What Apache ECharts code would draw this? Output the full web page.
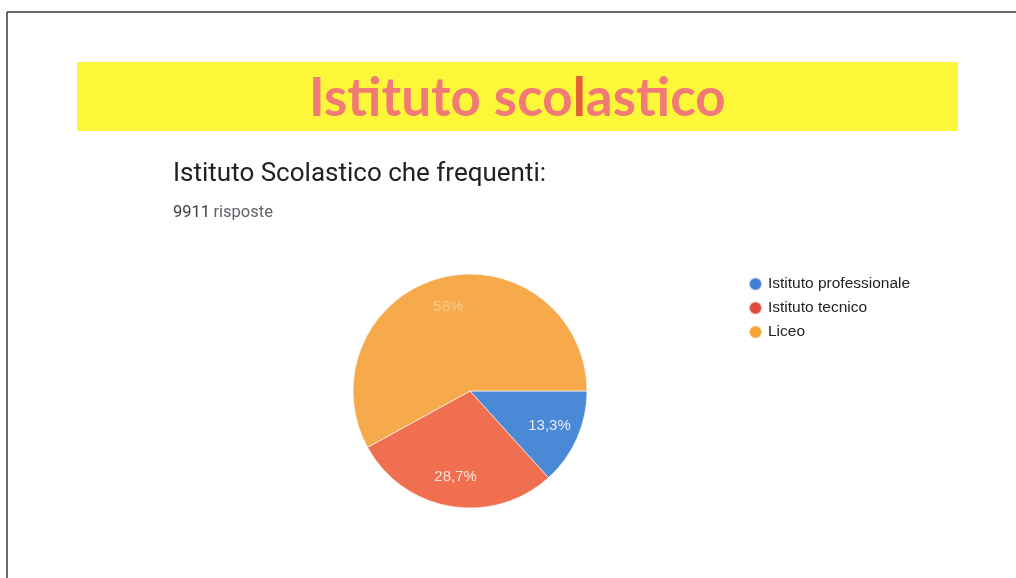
<!DOCTYPE html>
<html>
<head>
<meta charset="utf-8">
<script src="https://cdn.jsdelivr.net/npm/echarts@6/dist/echarts.min.js"></script>
<style>
html,body{margin:0;padding:0;background:#fff;}
#chart{width:1016px;height:578px;}
</style>
</head>
<body>
<div id="chart"></div>
<script>
// ---- data ----
var categories = ['Istituto professionale', 'Istituto tecnico', 'Liceo'];
var percentages = [13.3, 28.7, 58.0];
var sliceColors = ['#4a89d6', '#ef6f50', '#f7aa4c'];
var legendColors = ['#3f7ed0', '#de4a3c', '#f5a233'];
var labelColors = ['rgba(255,255,255,0.85)', 'rgba(255,255,255,0.8)', 'rgba(255,255,255,0.35)'];
var bannerTitle = ['Istituto sco', 'l', 'astico'];
var questionTitle = 'Istituto Scolastico che frequenti:';
var responsesCount = '9911';
var responsesWord = 'risposte';

function fmt(v) {
  var s = v.toFixed(1);
  if (s.slice(-2) === '.0') s = s.slice(0, -2);
  return s.replace('.', ',') + '%';
}

var pieData = categories.map(function (c, i) {
  return { name: c, value: percentages[i], itemStyle: { color: sliceColors[i] } };
});
var labelData = categories.map(function (c, i) {
  return { name: c, value: percentages[i], label: { color: labelColors[i] } };
});

var chart = echarts.init(document.getElementById('chart'), null, { renderer: 'canvas' });
chart.setOption({
  backgroundColor: '#ffffff',
  animation: false,
  legend: {
    orient: 'vertical',
    left: 748,
    top: 276,
    padding: 0,
    icon: 'circle',
    itemWidth: 13,
    itemHeight: 13,
    itemGap: 8,
    selectedMode: false,
    textStyle: { fontFamily: 'Liberation Sans, Arial, sans-serif', fontSize: 15.5, color: '#222222', padding: [0, 0, 0, 1] },
    data: categories.map(function (c, i) { return { name: c, itemStyle: { color: legendColors[i] } }; })
  },
  graphic: [
    { type: 'line', shape: { x1: 7, y1: 12, x2: 1016, y2: 12 }, style: { stroke: '#3a3a3a', lineWidth: 1.5 } },
    { type: 'line', shape: { x1: 7, y1: 12, x2: 7, y2: 578 }, style: { stroke: '#3a3a3a', lineWidth: 1.5 } },
    { type: 'rect', shape: { x: 77, y: 62, width: 881, height: 69 }, style: { fill: '#fdf73a' } },
    {
      type: 'text', left: 309, top: 72, z: 10,
      style: {
        text: '{a|' + bannerTitle[0] + '}{b|' + bannerTitle[1] + '}{a|' + bannerTitle[2] + '}',
        rich: {
          a: { fontFamily: 'Lato', fontWeight: 'bold', fontSize: 53, fill: '#f27a76' },
          b: { fontFamily: 'Lato', fontWeight: 'bold', fontSize: 53, fill: '#e4603c' }
        }
      }
    },
    { type: 'text', left: 173, top: 161, style: { text: questionTitle, fontFamily: 'Roboto', fontSize: 26, fill: '#202124' } },
    {
      type: 'text', left: 173, top: 204,
      style: {
        text: '{n|' + responsesCount + '} {w|' + responsesWord + '}',
        rich: {
          n: { fontFamily: 'Roboto', fontSize: 16.5, fill: '#3c4043' },
          w: { fontFamily: 'Roboto', fontSize: 16.5, fill: '#5f6368' }
        }
      }
    }
  ],
  series: [
    {
      type: 'pie',
      center: [470, 391],
      radius: [0, 117],
      startAngle: 0,
      clockwise: true,
      label: { show: false },
      labelLine: { show: false },
      itemStyle: { borderColor: 'rgba(255,255,255,0.6)', borderWidth: 1 },
      emphasis: { disabled: true },
      data: pieData
    },
    {
      type: 'pie',
      center: [470, 391],
      radius: [56, 112],
      startAngle: 0,
      clockwise: true,
      silent: true,
      z: 5,
      itemStyle: { color: 'transparent' },
      label: {
        show: true, position: 'inside',
        fontFamily: 'Liberation Sans, Arial, sans-serif', fontSize: 15,
        formatter: function (p) { return fmt(p.value); }
      },
      labelLine: { show: false },
      emphasis: { disabled: true },
      data: labelData
    }
  ]
});
</script>
</body>
</html>
